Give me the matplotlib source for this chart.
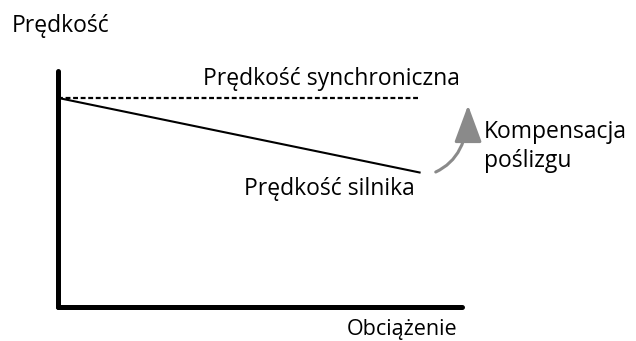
import matplotlib.pyplot as plt

# dane schematu (jednostki umowne)
obciazenie = [0.0, 0.895]
predkosc_synchroniczna = [0.886, 0.886]
predkosc_silnika = [0.886, 0.57]

# strzalka kompensacji poslizgu: poczatek i koniec
strzalka_start = (0.935, 0.572)
strzalka_koniec = (1.015, 0.855)

plt.rcParams['font.family'] = ['Open Sans', 'DejaVu Sans']

fig = plt.figure(figsize=(6.36, 3.41), dpi=100)
ax = fig.add_axes([58 / 636, 34 / 341, 404 / 636, 236 / 341])
ax.set_xlim(0, 1)
ax.set_ylim(0, 1)

ax.plot(obciazenie, predkosc_synchroniczna, color='black', lw=1.6,
        linestyle=(0, (2.2, 1.2)))
ax.plot(obciazenie, predkosc_silnika, color='black', lw=1.5)

ax.annotate('', xy=strzalka_koniec, xytext=strzalka_start,
            arrowprops=dict(arrowstyle='-|>,head_length=2.3,head_width=0.85',
                            mutation_scale=10, color='#8a8a8a', lw=2.2,
                            shrinkA=0, shrinkB=0,
                            connectionstyle='angle3,angleA=25,angleB=90'),
            annotation_clip=False)

for side in ['top', 'right']:
    ax.spines[side].set_visible(False)
for side in ['left', 'bottom']:
    ax.spines[side].set_linewidth(3.6)
    ax.spines[side].set_capstyle('round')
ax.set_xticks([])
ax.set_yticks([])


def px(x, y):
    return x / 636, 1 - y / 341


fig.text(*px(12, 32), 'Prędkość', fontsize=16.5, va='baseline', ha='left')
fig.text(*px(331, 85), 'Prędkość synchroniczna', fontsize=16.5,
         va='baseline', ha='center')
fig.text(*px(329, 195), 'Prędkość silnika', fontsize=16.5,
         va='baseline', ha='center')
fig.text(*px(484, 138), 'Kompensacja', fontsize=16.5,
         va='baseline', ha='left')
fig.text(*px(484, 167), 'poślizgu', fontsize=16.5,
         va='baseline', ha='left')
fig.text(*px(402, 335), 'Obciążenie', fontsize=15.5,
         va='baseline', ha='center')

fig.savefig('out.png', dpi=100)
